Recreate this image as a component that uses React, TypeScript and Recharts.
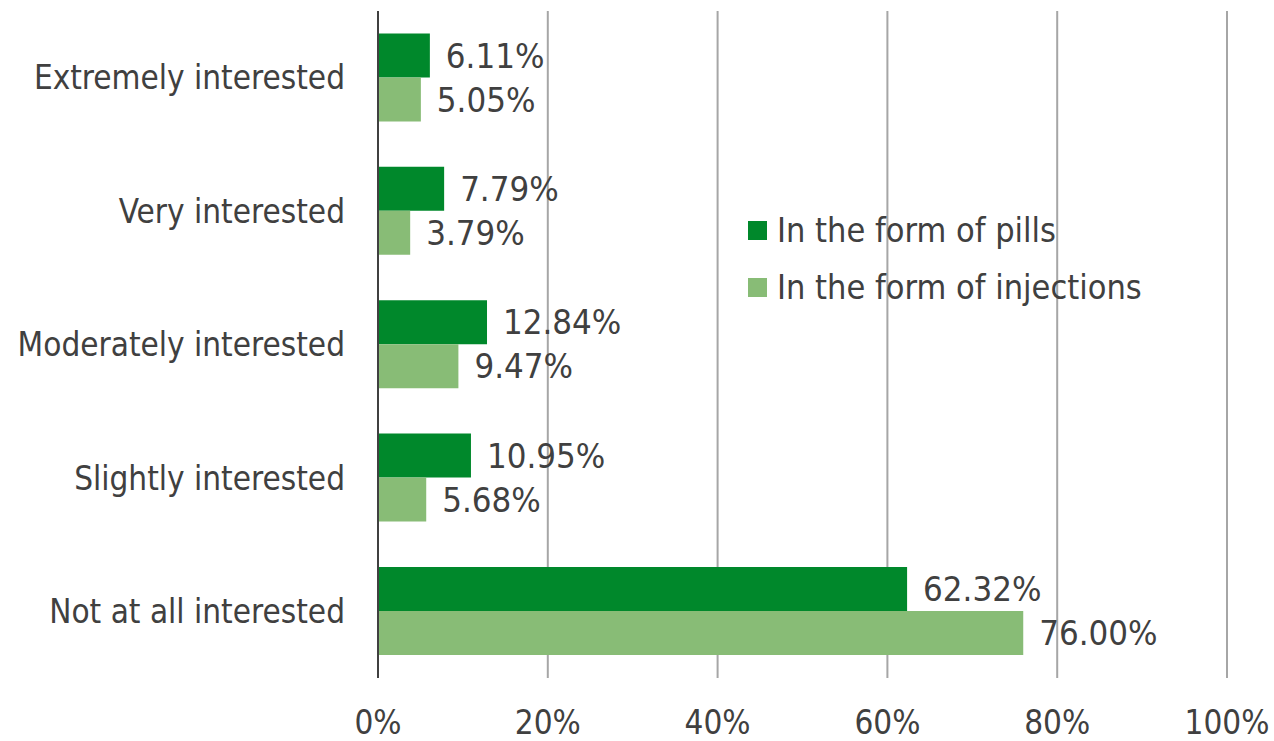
import React from 'react';
import { BarChart, Bar, XAxis, YAxis, CartesianGrid, Legend, LabelList } from 'recharts';

// Interest levels, listed top to bottom
const categories: string[] = [
  'Extremely interested',
  'Very interested',
  'Moderately interested',
  'Slightly interested',
  'Not at all interested',
];

// Share of respondents (%) per form of administration
const pillsValues: number[] = [6.11, 7.79, 12.84, 10.95, 62.32];
const injectionValues: number[] = [5.05, 3.79, 9.47, 5.68, 76.0];

const seriesNames: string[] = ['In the form of pills', 'In the form of injections'];
const xTicks: number[] = [0, 20, 40, 60, 80, 100];

const DARK_GREEN = '#00882B';
const LIGHT_GREEN = '#88BC76';
const TEXT = '#404040';
const FONT = "'DejaVu Sans Condensed', 'DejaVu Sans', sans-serif";

const data = categories.map((name, i) => ({
  name,
  pills: pillsValues[i],
  injections: injectionValues[i],
}));

const pct = (v: any) => `${Number(v).toFixed(2)}%`;

// Legend entries in series order (pills first)
const LegendBox = (props: any) => {
  const items = [...(props.payload || [])].sort(
    (a: any, b: any) => seriesNames.indexOf(a.value) - seriesNames.indexOf(b.value)
  );
  return (
    <div style={{ fontFamily: FONT, fontStretch: 'condensed' }}>
      {items.map((it: any) => (
        <div
          key={it.value}
          style={{ display: 'flex', alignItems: 'center', height: 57, fontSize: 34, color: TEXT }}
        >
          <span
            style={{ width: 19, height: 19, background: it.color, display: 'inline-block', marginRight: 10 }}
          />
          <span style={{ lineHeight: '57px' }}>{it.value}</span>
        </div>
      ))}
    </div>
  );
};

export default function App() {
  return (
    <div
      style={{
        position: 'absolute',
        left: 0,
        top: 0,
        width: 1274,
        height: 741,
        background: '#fff',
        fontFamily: FONT,
        fontStretch: 'condensed',
      }}
    >
      <BarChart
        width={1274}
        height={741}
        data={data}
        layout="vertical"
        margin={{ top: 11, right: 47, bottom: 0, left: 0 }}
        barCategoryGap="16.8%"
        barGap={0}
      >
        <CartesianGrid horizontal={false} vertical stroke="#A6A6A6" strokeWidth={2} />
        <XAxis
          type="number"
          domain={[0, 100]}
          ticks={xTicks}
          tickFormatter={(v: number) => `${v}%`}
          axisLine={false}
          tickLine={false}
          tickSize={0}
          tickMargin={33}
          height={63}
          tick={{ fill: TEXT, fontSize: 33, fontFamily: FONT }}
        />
        <YAxis
          type="category"
          dataKey="name"
          width={378}
          axisLine={{ stroke: TEXT, strokeWidth: 2 }}
          tickLine={false}
          tickSize={0}
          tickMargin={33}
          tick={{ fill: TEXT, fontSize: 33, fontFamily: FONT }}
        />
        <Legend
          layout="vertical"
          align="center"
          verticalAlign="middle"
          content={<LegendBox />}
          wrapperStyle={{ left: 748, top: 202, width: 'auto' }}
        />
        <Bar dataKey="pills" name={seriesNames[0]} fill={DARK_GREEN} isAnimationActive={false}>
          <LabelList
            dataKey="pills"
            position="right"
            offset={16}
            formatter={pct}
            fill={TEXT}
            fontSize={34.5}
            fontFamily={FONT}
          />
        </Bar>
        <Bar dataKey="injections" name={seriesNames[1]} fill={LIGHT_GREEN} isAnimationActive={false}>
          <LabelList
            dataKey="injections"
            position="right"
            offset={16}
            formatter={pct}
            fill={TEXT}
            fontSize={34.5}
            fontFamily={FONT}
          />
        </Bar>
      </BarChart>
    </div>
  );
}
